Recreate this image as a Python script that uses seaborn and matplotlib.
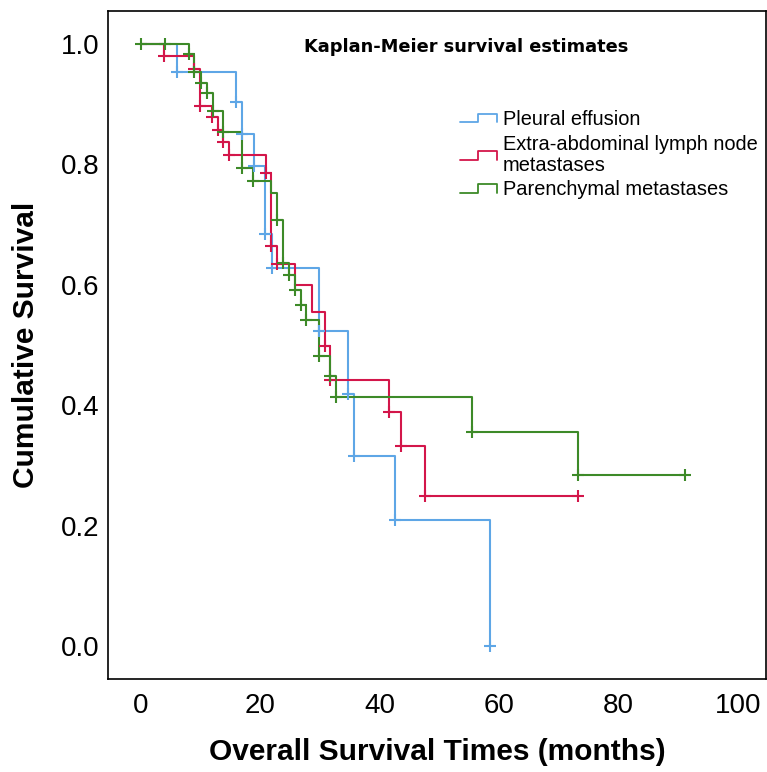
import numpy as np
import pandas as pd
import seaborn as sns
import matplotlib
matplotlib.use("Agg")
import matplotlib.pyplot as plt
from matplotlib.legend_handler import HandlerBase
from matplotlib.lines import Line2D

# ---------------- data ----------------
groups = ["Pleural effusion",
          "Extra-abdominal lymph node\nmetastases",
          "Parenchymal metastases"]
colors = ["#5ea6e6", "#d3164a", "#3d8a28"]

# step points (time in months, cumulative survival after the step)
pleural_t = [0, 6.0, 15.9, 16.9, 18.9, 20.8, 21.9, 29.8, 34.7, 35.7, 42.6, 58.5]
pleural_s = [1.0, 0.954, 0.904, 0.851, 0.797, 0.684, 0.628, 0.523, 0.419, 0.315, 0.210, 0.0]
pleural_end = 58.5
pleural_marks = [6.0, 15.9, 16.9, 18.9, 20.8, 21.9, 29.8, 34.7, 35.7, 42.6, 58.5]

lymph_t = [0, 3.85, 8.9, 9.9, 11.85, 12.9, 13.8, 14.8, 20.9, 21.8, 22.8, 25.75,
           28.7, 30.8, 31.7, 41.6, 43.6, 47.5]
lymph_s = [1.0, 0.98, 0.958, 0.897, 0.878, 0.857, 0.837, 0.815, 0.785, 0.664, 0.635,
           0.599, 0.554, 0.498, 0.442, 0.388, 0.332, 0.25]
lymph_end = 73.2
lymph_marks = [3.85, 8.9, 9.9, 11.85, 12.9, 13.8, 14.8, 20.9, 21.8, 22.8, 30.8,
               31.7, 41.6, 43.6, 47.5, 73.2]

paren_t = [0, 8.0, 8.9, 10.0, 11.0, 12.1, 13.8, 16.9, 18.7, 21.8, 22.8, 23.8, 24.8,
           25.75, 26.75, 27.7, 29.8, 31.6, 32.7, 55.5, 73.2]
paren_s = [1.0, 0.983, 0.953, 0.935, 0.918, 0.888, 0.854, 0.794, 0.773, 0.752, 0.708,
           0.636, 0.616, 0.591, 0.566, 0.541, 0.481, 0.449, 0.414, 0.355, 0.284]
paren_end = 91.1
paren_marks = [0, 4.0, 8.0, 8.9, 10.0, 11.0, 12.1, 13.8, 16.9, 18.7, 22.8, 23.8, 24.8,
               25.75, 26.75, 27.7, 29.8, 31.6, 32.7, 55.5, 73.2, 91.1]

xticks = [0, 20, 40, 60, 80, 100]
yticks = [0.0, 0.2, 0.4, 0.6, 0.8, 1.0]

# ---------------- build tables ----------------
series = [(pleural_t, pleural_s, pleural_end, pleural_marks),
          (lymph_t, lymph_s, lymph_end, lymph_marks),
          (paren_t, paren_s, paren_end, paren_marks)]

line_rows, mark_rows = [], []
for g, (t, s, end, marks) in zip(groups, series):
    tt = list(t) + ([end] if end > t[-1] else [])
    ss = list(s) + ([s[-1]] if end > t[-1] else [])
    for a, b in zip(tt, ss):
        line_rows.append((g, a, b))
    t_arr = np.asarray(t)
    s_arr = np.asarray(s)
    for m in marks:
        idx = np.searchsorted(t_arr, m + 1e-9, side="right") - 1
        mark_rows.append((g, m, s_arr[idx]))

lines = pd.DataFrame(line_rows, columns=["group", "time", "surv"])
marks = pd.DataFrame(mark_rows, columns=["group", "time", "surv"])
palette = dict(zip(groups, colors))

# ---------------- plot ----------------
sns.set_style("white")
plt.rcParams["font.family"] = ["Liberation Sans", "DejaVu Sans"]
plt.rcParams["text.color"] = "black"
plt.rcParams["axes.labelcolor"] = "black"
plt.rcParams["xtick.color"] = "black"
plt.rcParams["ytick.color"] = "black"

fig = plt.figure(figsize=(7.67, 7.72), dpi=100)
W, H = 767, 772
ax_l, ax_r, ax_t, ax_b = 108, 766, 11, 679
ax = fig.add_axes([ax_l / W, 1 - ax_b / H, (ax_r - ax_l) / W, (ax_b - ax_t) / H])

for g in groups:
    sub = lines[lines.group == g]
    sns.lineplot(data=sub, x="time", y="surv", color=palette[g], drawstyle="steps-post",
                 estimator=None, sort=False, lw=1.5, ax=ax, legend=False)
    msub = marks[marks.group == g]
    sns.scatterplot(data=msub, x="time", y="surv", color=palette[g], marker="+",
                    s=70, linewidth=1.5, ax=ax, legend=False, zorder=3)

# axis scale: 0 at px 141, 100 at px 738; 1.0 at py 44, 0.0 at py 646
xpp = 100 / (738 - 141)
ax.set_xlim(-(141 - ax_l) * xpp, 100 + (ax_r - 738) * xpp)
ypp = 1.0 / (646 - 44)
ax.set_ylim(-(ax_b - 646) * ypp, 1.0 + (44 - ax_t) * ypp)
ax.set_xticks(xticks)
ax.set_xticklabels([str(v) for v in xticks])
ax.set_yticks(yticks)
ax.set_yticklabels([f"{v:.1f}" for v in yticks])
ax.tick_params(axis="both", length=0, labelsize=20, colors="black")
ax.tick_params(axis="y", pad=6)
ax.tick_params(axis="x", pad=10)
for sp in ax.spines.values():
    sp.set_visible(True)
    sp.set_color("black")
    sp.set_linewidth(1.2)

ax.set_xlabel("Overall Survival Times (months)", fontsize=21.5, fontweight="bold",
              color="black")
ax.set_ylabel("Cumulative Survival", fontsize=21.5, fontweight="bold", color="black")
ax.xaxis.set_label_coords((437 - ax_l) / (ax_r - ax_l), (ax_b - 752) / (ax_b - ax_t))
ax.xaxis.label.set_va("center")
ax.yaxis.set_label_coords((26 - ax_l) / (ax_r - ax_l), (ax_b - 345) / (ax_b - ax_t))
ax.yaxis.label.set_va("center")

ax.text((466.5 - ax_l) / (ax_r - ax_l), (ax_b - 47) / (ax_b - ax_t),
        "Kaplan-Meier survival estimates", transform=ax.transAxes,
        ha="center", va="center", fontsize=12.8, fontweight="bold",
        family=["DejaVu Sans"], color="black")


class StepHandler(HandlerBase):
    def create_artists(self, legend, orig_handle, xdescent, ydescent, width, height,
                       fontsize, trans):
        x0, y0 = -xdescent, -ydescent
        xm = x0 + width * 0.5
        lo, hi = y0 + height * 0.15, y0 + height * 0.85
        ln = Line2D([x0, xm, xm, x0 + width, x0 + width], [lo, lo, hi, hi, lo],
                    color=orig_handle.get_color(), lw=orig_handle.get_linewidth())
        ln.set_transform(trans)
        return [ln]


handles = [Line2D([], [], color=c, lw=1.3) for c in colors]
leg = ax.legend(handles, groups, handler_map={Line2D: StepHandler()},
                loc="upper left",
                bbox_to_anchor=((460 - ax_l) / (ax_r - ax_l), (ax_b - 110) / (ax_b - ax_t)),
                frameon=False, fontsize=14.4, handlelength=1.85, handleheight=0.6,
                handletextpad=0.3, labelspacing=0.28, borderaxespad=0, borderpad=0)
for t in leg.get_texts():
    t.set_linespacing(1.15)
    t.set_color("black")

fig.savefig("out.png", dpi=100)
